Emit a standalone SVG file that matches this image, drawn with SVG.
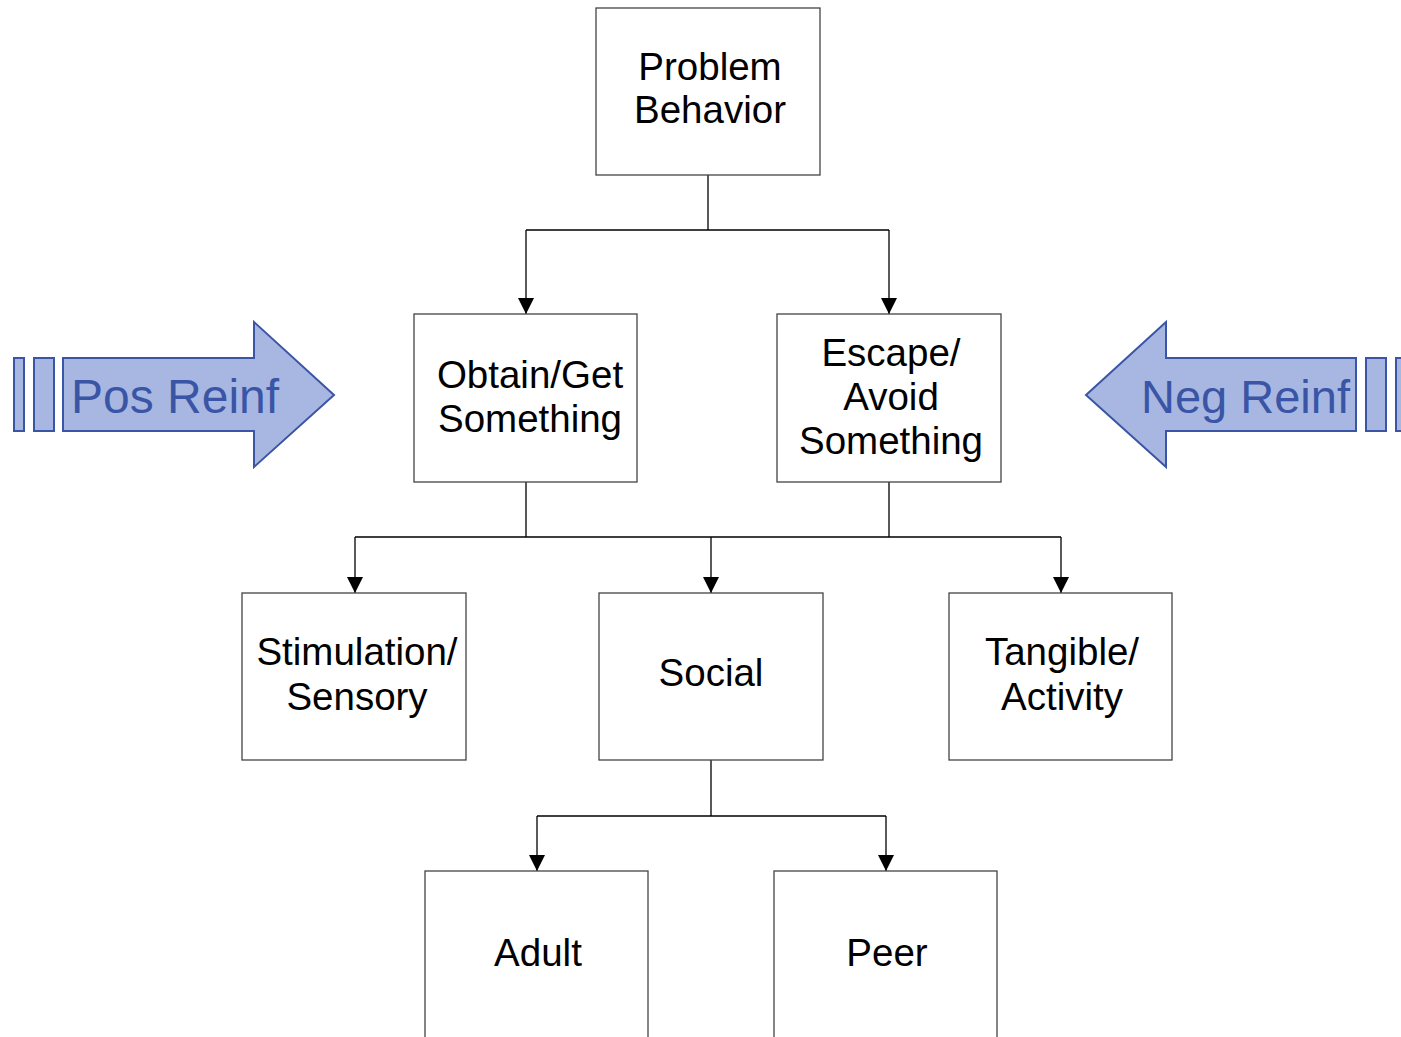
<svg xmlns="http://www.w3.org/2000/svg" width="1401" height="1037" viewBox="0 0 1401 1037">
  <style>
    .box { fill: #ffffff; stroke: #444444; stroke-width: 1.3; }
    .lbl { font-family: "Liberation Sans", Arial, sans-serif; font-size: 38.5px; fill: #000000; text-anchor: middle; }
    .wire { fill: none; stroke: #000000; stroke-width: 1.3; }
    .big { fill: #A8B7E1; stroke: #3A55A5; stroke-width: 2; stroke-linejoin: miter; }
    .bigtxt { font-family: "Liberation Sans", Arial, sans-serif; font-size: 48px; fill: #3A55A5; }
  </style>
  <defs>
    <!-- filled triangular head, drawn along +x so orient="auto" points it along the line -->
    <marker id="head" viewBox="0 0 16 16" refX="16" refY="8" markerWidth="16" markerHeight="16" markerUnits="userSpaceOnUse" orient="auto">
      <path d="M0,0 L16,8 L0,16 Z" fill="#000000"/>
    </marker>
  </defs>

  <rect width="1401" height="1037" fill="#ffffff"/>

  <!-- connectors -->
  <g id="connectors">
    <path class="wire" d="M708,175 V230 M526,230 H889"/>
    <line class="wire" x1="526" y1="230" x2="526" y2="314" marker-end="url(#head)"/>
    <line class="wire" x1="889" y1="230" x2="889" y2="314" marker-end="url(#head)"/>

    <path class="wire" d="M526,482 V537 M889,482 V537 M355,537 H1061"/>
    <line class="wire" x1="355" y1="537" x2="355" y2="593" marker-end="url(#head)"/>
    <line class="wire" x1="711" y1="537" x2="711" y2="593" marker-end="url(#head)"/>
    <line class="wire" x1="1061" y1="537" x2="1061" y2="593" marker-end="url(#head)"/>

    <path class="wire" d="M711,760 V816 M537,816 H886"/>
    <line class="wire" x1="537" y1="816" x2="537" y2="871" marker-end="url(#head)"/>
    <line class="wire" x1="886" y1="816" x2="886" y2="871" marker-end="url(#head)"/>
  </g>

  <!-- nodes -->
  <g id="problem-behavior">
    <rect class="box" x="596" y="8" width="224" height="167"/>
    <text class="lbl" x="710" y="80">Problem</text>
    <text class="lbl" x="710" y="123">Behavior</text>
  </g>

  <g id="obtain">
    <rect class="box" x="414" y="314" width="223" height="168"/>
    <text class="lbl" x="530" y="388">Obtain/Get</text>
    <text class="lbl" x="530" y="432">Something</text>
  </g>

  <g id="escape">
    <rect class="box" x="777" y="314" width="224" height="168"/>
    <text class="lbl" x="891" y="366">Escape/</text>
    <text class="lbl" x="891" y="410">Avoid</text>
    <text class="lbl" x="891" y="454">Something</text>
  </g>

  <g id="stimulation">
    <rect class="box" x="242" y="593" width="224" height="167"/>
    <text class="lbl" x="357" y="665">Stimulation/</text>
    <text class="lbl" x="357" y="710">Sensory</text>
  </g>

  <g id="social">
    <rect class="box" x="599" y="593" width="224" height="167"/>
    <text class="lbl" x="711" y="686">Social</text>
  </g>

  <g id="tangible">
    <rect class="box" x="949" y="593" width="223" height="167"/>
    <text class="lbl" x="1062" y="665">Tangible/</text>
    <text class="lbl" x="1062" y="710">Activity</text>
  </g>

  <g id="adult">
    <rect class="box" x="425" y="871" width="223" height="175"/>
    <text class="lbl" x="538" y="966">Adult</text>
  </g>

  <g id="peer">
    <rect class="box" x="774" y="871" width="223" height="175"/>
    <text class="lbl" x="887" y="966">Peer</text>
  </g>

  <!-- block arrows -->
  <g id="pos-reinf">
    <rect class="big" x="14" y="358" width="10" height="73"/>
    <rect class="big" x="34" y="358" width="20" height="73"/>
    <polygon class="big" points="63,358 254,358 254,322 334,395 254,467 254,431 63,431"/>
    <text class="bigtxt" x="71" y="413">Pos Reinf</text>
  </g>

  <g id="neg-reinf">
    <rect class="big" x="1366" y="358" width="20" height="73"/>
    <rect class="big" x="1396" y="358" width="10" height="73"/>
    <polygon class="big" points="1356,358 1166,358 1166,322 1086,395 1166,467 1166,431 1356,431"/>
    <text class="bigtxt" x="1141" y="413" style="font-size:47px">Neg Reinf</text>
  </g>
</svg>
